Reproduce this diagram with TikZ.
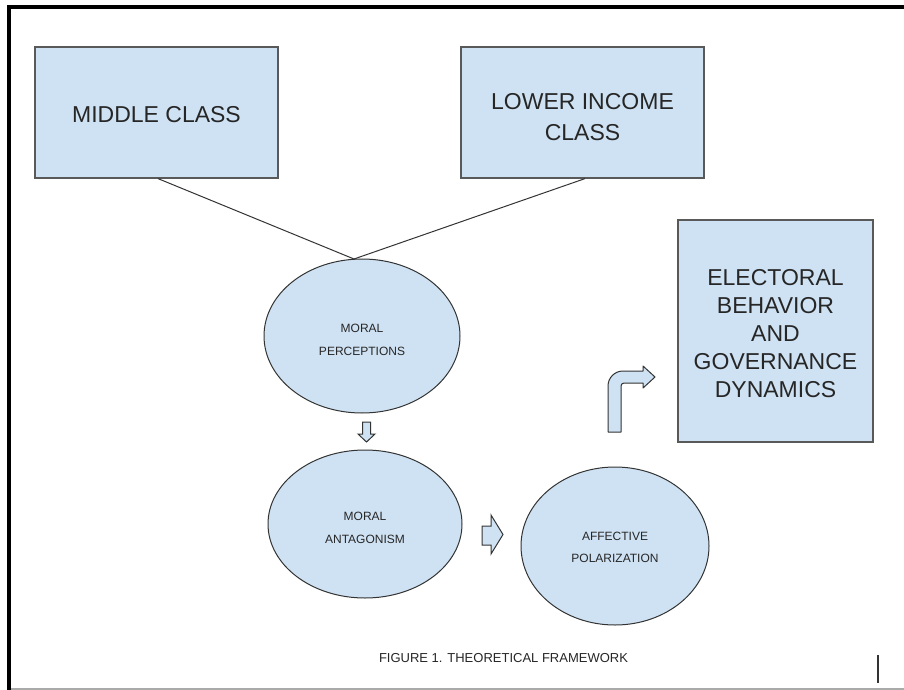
\documentclass[tikz,border=0pt]{standalone}
\usepackage{fontspec}
\setmainfont{Liberation Sans}
\usetikzlibrary{shapes.geometric}
\definecolor{boxfill}{HTML}{CFE2F3}
\definecolor{boxline}{HTML}{595959}
\definecolor{frameline}{HTML}{AAAAAA}
\tikzset{
  bigbox/.style={draw=boxline, line width=1.2pt, fill=boxfill, inner sep=0pt},
  bigtext/.style={align=center, text=black!85, inner sep=0pt},
  oval/.style={ellipse, draw=black!80, line width=1pt, fill=boxfill, inner sep=0pt},
  ovaltext/.style={align=center, inner sep=0pt, font=\fontsize{12}{22.5}\selectfont, text=black!85},
  link/.style={draw=black!80, line width=1pt},
  blockarrow/.style={draw=black!80, line width=1pt, fill=boxfill, line join=miter},
}
\begin{document}
\begin{tikzpicture}[x=1pt,y=-1pt]
\useasboundingbox (0,0) rectangle (904,690);
% frame
\draw[line width=4pt] (904,7) -- (9,7) -- (9,690);
\draw[frameline, line width=1.5pt] (11,689) -- (904,689);
% boxes
\node[bigbox, minimum width=243pt, minimum height=131pt] (mc) at (156.5,112.5) {};
\node[bigtext, font=\fontsize{23}{28}\selectfont] (mct) at ([yshift=-2pt]mc.center) {MIDDLE CLASS};
\node[bigbox, minimum width=243pt, minimum height=131pt] (lic) at (582.5,112.5) {};
\node[bigtext, font=\fontsize{23}{31}\selectfont] (lict) at ([yshift=-5pt]lic.center) {LOWER INCOME\\CLASS};
\node[bigbox, minimum width=195pt, minimum height=222pt] (eb) at (775.5,331) {};
\node[bigtext, font=\fontsize{23}{28}\selectfont] (ebt) at ([yshift=-3pt]eb.center) {ELECTORAL\\BEHAVIOR\\AND\\GOVERNANCE\\DYNAMICS};
% ellipses
\node[oval, minimum width=196pt, minimum height=154pt] (mp) at (362,336) {};
\node[ovaltext] (mpt) at ([yshift=-4pt]mp.center) {MORAL\\PERCEPTIONS};
\node[oval, minimum width=194pt, minimum height=148pt] (ma) at (365,524) {};
\node[ovaltext] (mat) at ([yshift=-4pt]ma.center) {MORAL\\ANTAGONISM};
\node[oval, minimum width=188pt, minimum height=158pt] (ap) at (615,546) {};
\node[ovaltext] (apt) at ([yshift=-1.5pt]ap.center) {AFFECTIVE\\POLARIZATION};
% connectors
\coordinate (meet) at (354,259);
\draw[link] (mc.south) ++(1.5,0) -- (meet);
\draw[link] (lic.south) ++(2.5,0) -- (meet);
% down block arrow
\draw[blockarrow] (362.5,422) -- (370.5,422) -- (370.5,434) -- (375,434) -- (366.5,442) -- (358,434) -- (362.5,434) -- cycle;
% right block arrow
\draw[blockarrow] (482,526) -- (491,526) -- (491,515) -- (503,534.5) -- (491,554) -- (491,545) -- (482,545) -- cycle;
% bent arrow
\draw[blockarrow, line join=round] (608,432) -- (608,386) arc[start angle=180, end angle=270, radius=15] -- (643,371) -- (643,366) -- (655,377) -- (643,388) -- (643,383) -- (624,383) arc[start angle=270, end angle=180, radius=3] -- (621,432) -- cycle;
% caption
\node[font=\fontsize{13}{15}\selectfont, text=black!85] (cap) at (503.5,658) {FIGURE 1. THEORETICAL FRAMEWORK};
% cursor bar
\draw[black!80, line width=2pt] (878,655) -- (878,683);
\end{tikzpicture}
\end{document}
